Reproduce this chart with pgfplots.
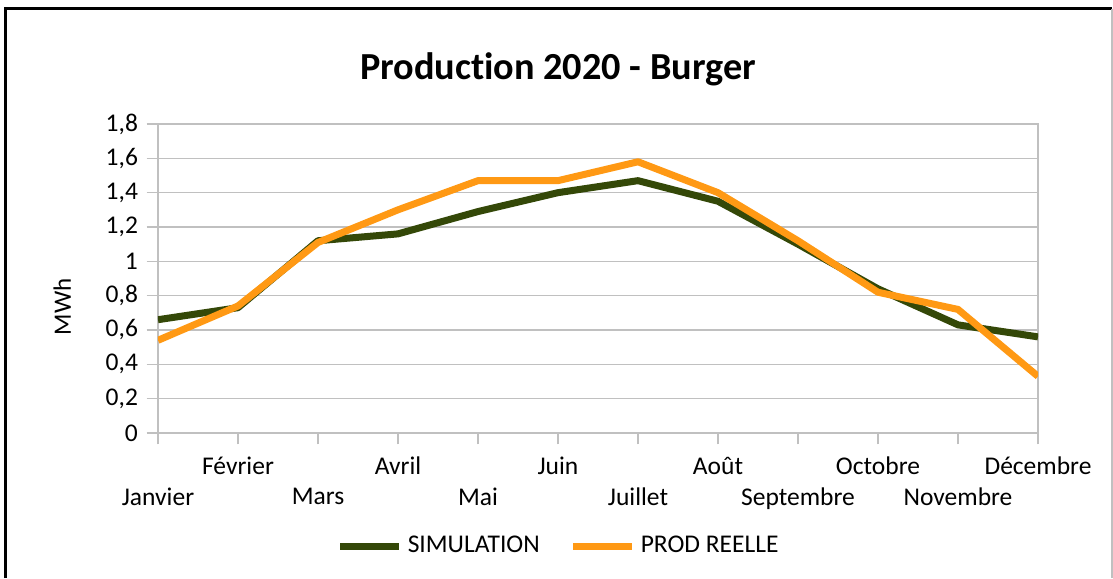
\documentclass[border=0pt]{standalone}
\usepackage{fontspec}
\setmainfont{Carlito}[Ligatures=NoCommon]
\usepackage{pgfplots}
\pgfplotsset{compat=1.18}
\definecolor{simgreen}{RGB}{52,72,8}
\definecolor{reelorange}{RGB}{255,153,20}
\definecolor{gridgray}{RGB}{192,192,192}
\begin{document}
\begin{tikzpicture}
\useasboundingbox (-63.2pt,-58pt) rectangle (382pt,173.2pt);
\draw[black,line width=1.2pt] (-60.8pt,-58pt) -- (-60.8pt,169.8pt) -- (381.6pt,169.8pt);
\draw[gridgray,line width=0.8pt] (381.6pt,169.8pt) -- (381.6pt,-58pt);
\begin{axis}[
  at={(0pt,0pt)}, anchor=south west,
  scale only axis, width=352pt, height=123.6pt,
  xmin=0, xmax=11, ymin=0, ymax=1.8,
  ytick={0,0.2,0.4,0.6,0.8,1,1.2,1.4,1.6,1.8},
  yticklabels={0,{0,2},{0,4},{0,6},{0,8},1,{1,2},{1,4},{1,6},{1,8}},
  xtick={1,3,5,7,9,11},
  xticklabels={Février,Avril,Juin,Août,Octobre,Décembre},
  extra x ticks={0,2,4,6,8,10},
  extra x tick labels={Janvier,Mars,Mai,Juillet,Septembre,Novembre},
  extra x tick style={xticklabel style={yshift=-12.4pt}},
  xticklabel style={yshift=-1.6pt},
  tick pos=left,
  tick align=outside, major tick length=4.5pt,
  tick style={gridgray, line width=0.6pt},
  ymajorgrids, major grid style={gridgray, line width=0.6pt},
  axis line style={gridgray, line width=0.6pt},
  tick label style={font=\fontsize{10.2}{12}\selectfont, text=black},
  ylabel={MWh},
  ylabel style={at={(axis description cs:-0.109,0.408)}, anchor=center, font=\fontsize{10}{12}\selectfont},
  title={Production 2020 - Burger},
  title style={at={(axis description cs:0.4545,1.1294)}, anchor=center, font=\fontsize{15.3}{18}\selectfont\bfseries},
  legend style={at={(axis description cs:0.457,-0.366)}, anchor=center, draw=none,
    legend columns=2, font=\fontsize{10.2}{12}\selectfont,
    /tikz/every even column/.append style={column sep=10pt}},
  legend image code/.code={\draw[#1] (0pt,0pt) -- (23.6pt,0pt);},
]
\addplot[simgreen, line width=2.8pt, line join=round] coordinates {
 (0,0.66) (1,0.73) (2,1.12) (3,1.16) (4,1.29) (5,1.40) (6,1.47) (7,1.35) (8,1.10) (9,0.84) (10,0.63) (11,0.56)};
\addlegendentry{SIMULATION}
\addplot[reelorange, line width=2.8pt, line join=round] coordinates {
 (0,0.54) (1,0.74) (2,1.11) (3,1.30) (4,1.47) (5,1.47) (6,1.58) (7,1.40) (8,1.12) (9,0.82) (10,0.72) (11,0.33)};
\addlegendentry{PROD REELLE}
\end{axis}
\end{tikzpicture}
\end{document}
